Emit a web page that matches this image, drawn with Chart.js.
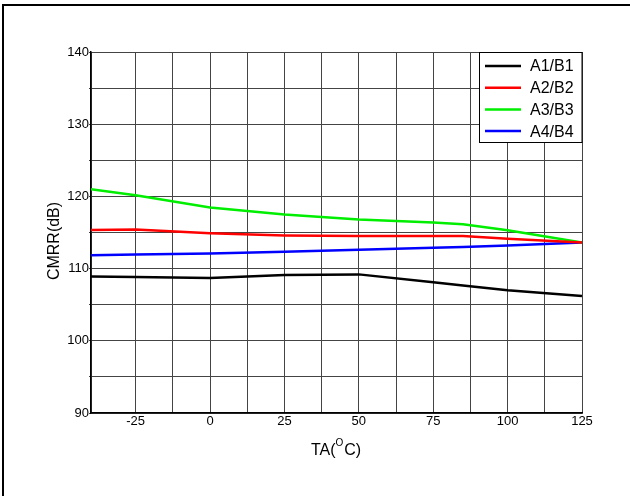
<!DOCTYPE html>
<html>
<head>
<meta charset="utf-8">
<script src="https://cdn.jsdelivr.net/npm/chart.js@4.4.1/dist/chart.umd.min.js"></script>
<style>
  html, body { margin: 0; padding: 0; background: #fff; overflow: hidden; }
  #wrap { width: 630px; height: 496px; overflow: hidden; }
  canvas { display: block; }
</style>
</head>
<body>
<div id="wrap"><canvas id="cmrrChart" width="630" height="496"></canvas></div>
<script>
// temperature points (deg C) and CMRR (dB) for each channel pair
const temps = [-40, -25, 0, 25, 50, 75, 85, 100, 125];
const a1b1 = [108.9, 108.85, 108.7, 109.1, 109.2, 108.1, 107.65, 107.0, 106.2];
const a2b2 = [115.35, 115.4, 114.9, 114.6, 114.5, 114.5, 114.5, 114.15, 113.6];
const a3b3 = [121.0, 120.15, 118.45, 117.5, 116.8, 116.4, 116.15, 115.3, 113.6];
const a4b4 = [111.85, 111.95, 112.1, 112.35, 112.6, 112.9, 113.0, 113.2, 113.6];
const seriesNames = ['A1/B1', 'A2/B2', 'A3/B3', 'A4/B4'];
const seriesColors = ['#000000', '#ff0000', '#00ee00', '#0000ff'];

const xLabelTicks = [-25, 0, 25, 50, 75, 100, 125];
const yLabelTicks = [90, 100, 110, 120, 130, 140];

const font = 'Arial, "Liberation Sans", sans-serif';

function toPoints(vals) {
  return temps.map((t, i) => ({ x: t, y: vals[i] }));
}

// frame around the picture (only left and top edges show)
const framePlugin = {
  id: 'frame',
  beforeDraw(chart) {
    const c = chart.ctx;
    c.save();
    c.fillStyle = '#fff';
    c.fillRect(0, 0, chart.width, chart.height);
    c.strokeStyle = '#000';
    c.lineWidth = 2;
    c.beginPath();
    c.moveTo(3, chart.height);
    c.lineTo(3, 5);
    c.lineTo(chart.width, 5);
    c.stroke();
    c.restore();
  }
};

// legend box inside the top right of the plot, and axis titles
const boxLegend = {
  id: 'boxLegend',
  afterDraw(chart) {
    const c = chart.ctx;
    const area = chart.chartArea;
    c.save();
    const bx = 479.5, by = area.top, bw = area.right - 479.5, bh = 90;
    c.fillStyle = '#fff';
    c.fillRect(bx, by, bw, bh);
    c.strokeStyle = '#000';
    c.lineWidth = 1;
    c.strokeRect(bx, by + 0.5, bw, bh);
    c.font = '16px ' + font;
    c.textBaseline = 'middle';
    chart.data.datasets.forEach((ds, i) => {
      const y = by + 14 + i * 21.7;
      c.strokeStyle = ds.borderColor;
      c.lineWidth = 2.5;
      c.beginPath();
      c.moveTo(485, y);
      c.lineTo(521, y);
      c.stroke();
      c.fillStyle = '#000';
      c.fillText(ds.label, 530, y + 1);
    });

    // y title
    c.save();
    c.translate(55, 241);
    c.rotate(-Math.PI / 2);
    c.font = '16px ' + font;
    c.textAlign = 'center';
    c.textBaseline = 'middle';
    c.fillStyle = '#000';
    c.fillText('CMRR(dB)', 0, 0);
    c.restore();

    // x title with superscript O
    c.fillStyle = '#000';
    c.textBaseline = 'alphabetic';
    c.textAlign = 'left';
    const big = '16px ' + font, small = '10px ' + font;
    c.font = big;
    const w1 = c.measureText('TA(').width;
    const w3 = c.measureText('C)').width;
    c.font = small;
    const w2 = c.measureText('O').width + 1;
    let x = 336 - (w1 + w2 + w3) / 2;
    const base = 455;
    c.font = big;
    c.fillText('TA(', x, base);
    x += w1;
    c.font = small;
    c.fillText('O', x, base - 9);
    x += w2;
    c.font = big;
    c.fillText('C)', x, base);
    c.restore();
  }
};

new Chart(document.getElementById('cmrrChart'), {
  type: 'line',
  data: {
    datasets: [a1b1, a2b2, a3b3, a4b4].map((vals, i) => ({
      label: seriesNames[i],
      data: toPoints(vals),
      borderColor: seriesColors[i],
      backgroundColor: seriesColors[i],
      borderWidth: 2.5,
      pointRadius: 0,
      tension: 0,
      fill: false
    }))
  },
  options: {
    responsive: false,
    animation: false,
    events: [],
    layout: { padding: { left: 0, top: 52, right: 48, bottom: 0 } },
    plugins: { legend: { display: false }, tooltip: { enabled: false } },
    scales: {
      x: {
        type: 'linear',
        min: -40,
        max: 125,
        afterFit(s) { s.height = 83; },
        ticks: {
          stepSize: 12.5,
          autoSkip: false,
          maxRotation: 0,
          padding: 1,
          color: '#000',
          font: { family: font, size: 13 },
          callback: v => xLabelTicks.includes(v) ? String(v) : ''
        },
        grid: { color: '#444', lineWidth: 1, tickLength: 0 },
        border: { color: '#000', width: 1.5 }
      },
      y: {
        min: 90,
        max: 140,
        afterFit(s) { s.width = 91; },
        ticks: {
          stepSize: 5,
          autoSkip: false,
          padding: 0,
          color: '#000',
          font: { family: font, size: 13 },
          callback: v => yLabelTicks.includes(v) ? String(v) : ''
        },
        grid: { color: '#444', lineWidth: 1, tickLength: 2 },
        border: { color: '#000', width: 1.5 }
      }
    }
  },
  plugins: [framePlugin, boxLegend]
});
</script>
</body>
</html>
